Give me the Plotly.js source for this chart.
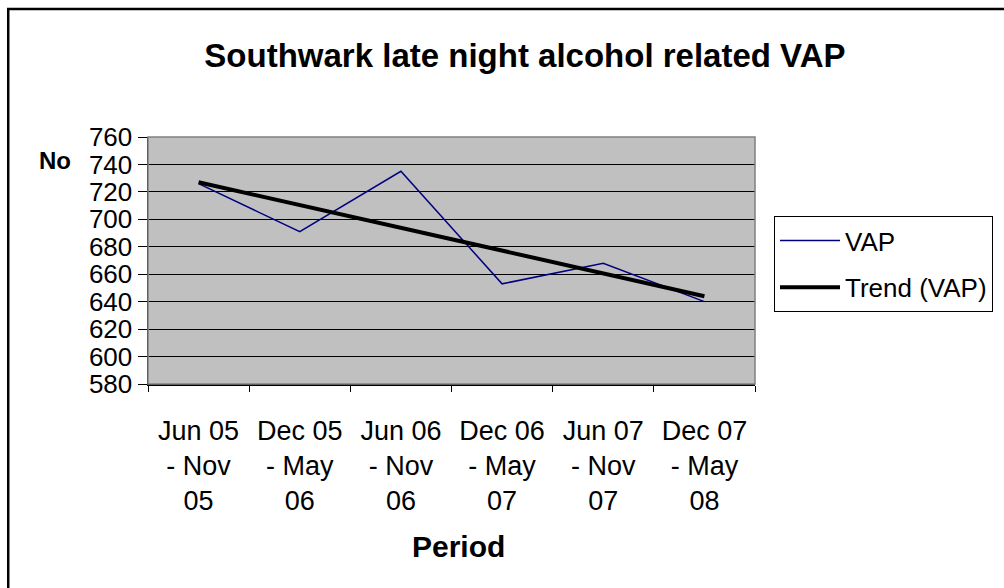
<!DOCTYPE html>
<html>
<head>
<meta charset="utf-8">
<script src="https://cdn.plot.ly/plotly-3.0.1.min.js"></script>
<style>
html,body{margin:0;padding:0;background:#fff;overflow:hidden;}
#chart{width:1004px;height:588px;}
</style>
</head>
<body>
<div id="chart"></div>
<script>
// Data
var categories = ["Jun 05 - Nov 05", "Dec 05 - May 06", "Jun 06 - Nov 06", "Dec 06 - May 07", "Jun 07 - Nov 07", "Dec 07 - May 08"];
var tickLabels = ["Jun 05<br>- Nov<br>05", "Dec 05<br>- May<br>06", "Jun 06<br>- Nov<br>06", "Dec 06<br>- May<br>07", "Jun 07<br>- Nov<br>07", "Dec 07<br>- May<br>08"];
var vapValues = [726, 691, 735, 653, 668, 640];
var trendCategories = ["Jun 05 - Nov 05", "Dec 07 - May 08"];
var trendValues = [727, 644];
var yTicks = [580, 600, 620, 640, 660, 680, 700, 720, 740, 760];

var FONT = "Liberation Sans, Arial, sans-serif";

var traces = [
  {
    x: categories, y: vapValues, type: "scatter", mode: "lines",
    name: "VAP", legendgroup: "a",
    line: {color: "#000080", width: 1.5}
  },
  {
    x: trendCategories, y: trendValues, type: "scatter", mode: "lines",
    name: "Trend (VAP)", legendgroup: "b",
    line: {color: "#000000", width: 4}
  }
];

var layout = {
  width: 1004, height: 588,
  margin: {l: 148, r: 248, t: 137, b: 204, pad: 0},
  paper_bgcolor: "#ffffff",
  plot_bgcolor: "#c0c0c0",
  font: {family: FONT, color: "#000", size: 26},
  showlegend: true,
  title: {
    text: "<b>Southwark late night alcohol related VAP</b>",
    font: {family: FONT, size: 33, color: "#000"},
    x: 0.621, xref: "paper", xanchor: "center",
    y: 0.905, yref: "container", yanchor: "middle"
  },
  xaxis: {
    type: "category",
    categoryorder: "array", categoryarray: categories,
    range: [-0.5, 5.5],
    tickmode: "array", tickvals: categories, ticktext: tickLabels,
    tickson: "boundaries",
    ticks: "outside", ticklen: 6, tickcolor: "#000", tickwidth: 1,
    ticklabelstandoff: 22,
    showline: true, linecolor: "#000", linewidth: 1.5,
    showgrid: false, zeroline: false,
    tickfont: {family: FONT, size: 27, color: "#000"},
    fixedrange: true
  },
  yaxis: {
    range: [580, 760],
    tickmode: "array", tickvals: yTicks,
    ticks: "outside", ticklen: 9, tickcolor: "#000", tickwidth: 1,
    showline: true, linecolor: "#000", linewidth: 1.5,
    showgrid: true, gridcolor: "#000", gridwidth: 1,
    zeroline: false,
    tickfont: {family: FONT, size: 26, color: "#000"},
    fixedrange: true
  },
  legend: {
    x: 1.0296, xanchor: "left",
    y: 0.68, yanchor: "top",
    bgcolor: "#ffffff",
    bordercolor: "#000", borderwidth: 1,
    font: {family: FONT, size: 26, color: "#000"},
    tracegroupgap: 10,
    itemwidth: 60,
    traceorder: "grouped"
  },
  annotations: [
    {
      text: "<b>No</b>", xref: "paper", yref: "paper",
      x: (55 - 148) / 608, y: (384 - 160) / 247,
      xanchor: "center", yanchor: "middle", showarrow: false,
      font: {family: FONT, size: 24, color: "#000"}
    },
    {
      text: "<b>Period</b>", xref: "paper", yref: "paper",
      x: (459 - 148) / 608, y: (384 - 546) / 247,
      xanchor: "center", yanchor: "middle", showarrow: false,
      font: {family: FONT, size: 30, color: "#000"}
    }
  ],
  shapes: [
    {
      type: "rect", xref: "paper", yref: "paper",
      x0: 0, x1: 1, y0: 0, y1: 1,
      line: {color: "#808080", width: 1.5}, fillcolor: "rgba(0,0,0,0)", layer: "above"
    },
    {
      type: "rect", xref: "paper", yref: "paper",
      x0: (8 - 148) / 608, x1: (1040 - 148) / 608,
      y0: (384 - 640) / 247, y1: (384 - 9) / 247,
      line: {color: "#000", width: 2.5}, fillcolor: "rgba(0,0,0,0)", layer: "below"
    }
  ]
};

Plotly.newPlot("chart", traces, layout, {displayModeBar: false, staticPlot: true});
</script>
</body>
</html>
